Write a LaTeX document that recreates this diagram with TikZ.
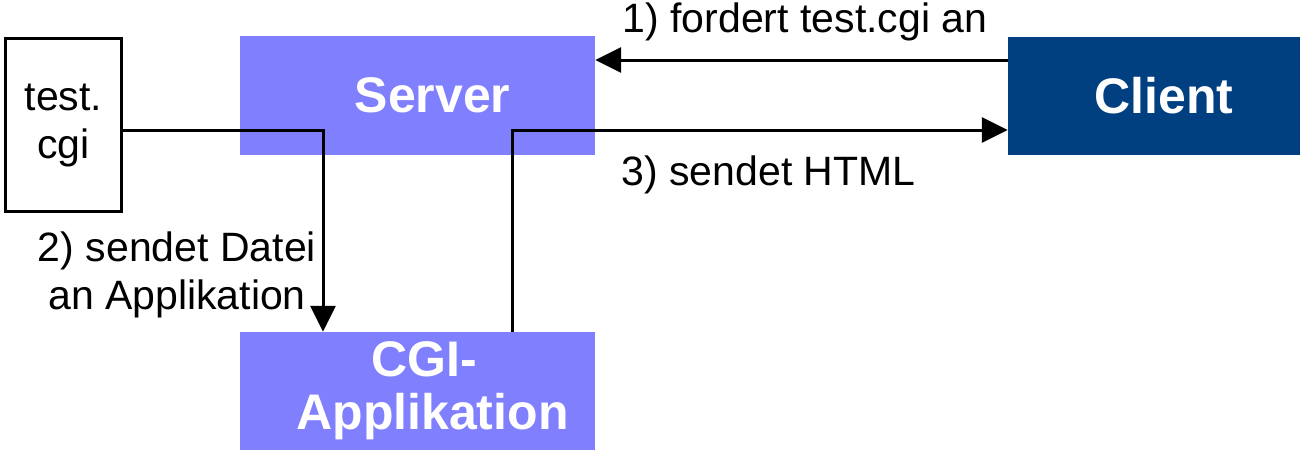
\documentclass[tikz,border=0pt]{standalone}
\usepackage{fontspec}
\setmainfont{Liberation Sans}
\usetikzlibrary{arrows.meta}
\definecolor{srvblue}{RGB}{128,128,255}
\definecolor{cliblue}{RGB}{0,64,128}
\begin{document}
\begin{tikzpicture}[x=1pt,y=-1pt,
  boxa/.style={rectangle,fill=srvblue,draw=none,inner sep=0pt,text=white,
    font=\bfseries\fontsize{50}{53}\selectfont,align=center},
  boxc/.style={rectangle,fill=cliblue,draw=none,inner sep=0pt,text=white,
    font=\bfseries\fontsize{50}{53}\selectfont,align=center},
  filebox/.style={rectangle,draw=black,line width=3pt,fill=white,inner sep=0pt,
    font=\fontsize{41}{48}\selectfont,align=center},
  lbl/.style={inner sep=0pt,font=\fontsize{41}{48}\selectfont,align=center},
  arr/.style={line width=3pt,-{Triangle[length=26pt,width=25pt]}}]
\useasboundingbox (0,0) rectangle (1304,451);
\node[filebox,minimum width=116pt,minimum height=173pt] (testcgi) at (63.5,125) {test.\\cgi};
\node[boxa,minimum width=355pt,minimum height=119pt] (server) at (417.5,95.5) {\hspace*{30pt}Server};
\node[boxc,minimum width=292pt,minimum height=118pt] (client) at (1154,96) {\hspace*{20pt}Client};
\node[boxa,minimum width=355pt,minimum height=118pt] (cgi) at (417.5,391) {\hspace*{14pt}CGI-\\\hspace*{30pt}Applikation};
\node[lbl,anchor=base] (l1) at (805,32) {1) fordert test.cgi an};
\node[lbl,anchor=base] (l3) at (768.5,185) {3) sendet HTML};
\node[lbl,anchor=north] (l2) at (177,232) {2) sendet Datei\\an Applikation};
\draw[arr] ([yshift=36pt]client.west) -- ([yshift=35.5pt]server.east);
\draw[arr] ([xshift=94.5pt]cgi.north) |- ([yshift=-34pt]client.west);
\draw[arr] ([yshift=-5pt]testcgi.east) -| ([xshift=-94.5pt]cgi.north);
\end{tikzpicture}
\end{document}
